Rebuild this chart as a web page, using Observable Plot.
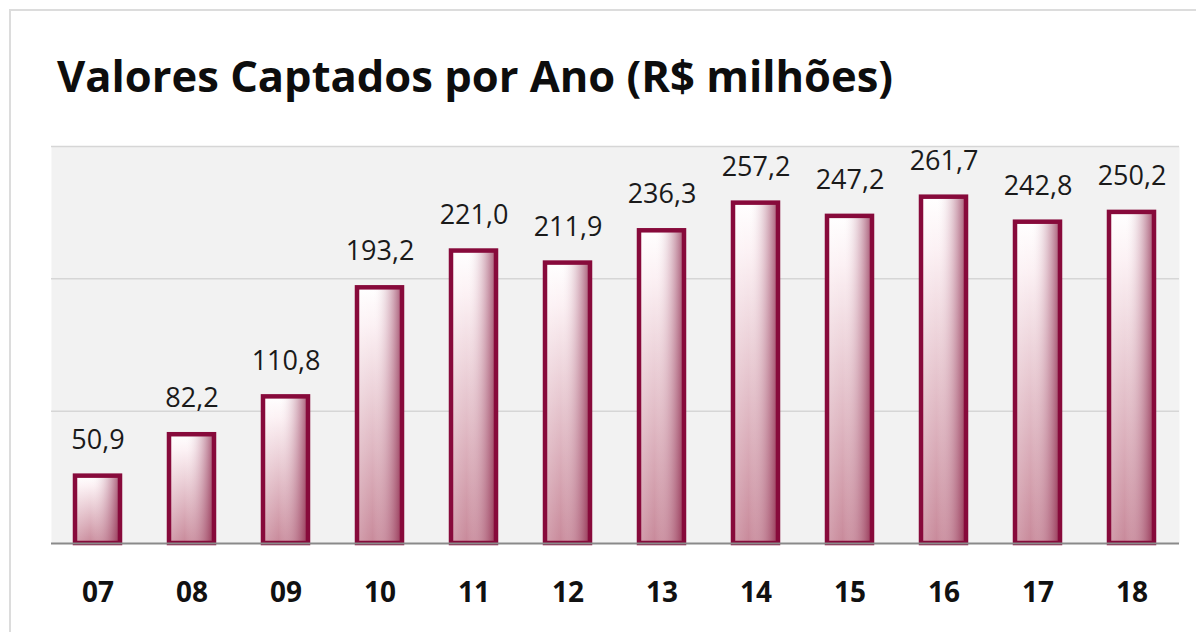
<!DOCTYPE html>
<html>
<head>
<meta charset="utf-8">
<script src="https://cdn.jsdelivr.net/npm/d3@7"></script>
<script src="https://cdn.jsdelivr.net/npm/@observablehq/plot@0.6"></script>
<style>
  html, body { margin: 0; padding: 0; background: #ffffff; }
  body { width: 1196px; height: 632px; position: relative; overflow: hidden; font-family: "Open Sans", sans-serif; }
  #frame { position: absolute; left: 9px; top: 9px; width: 1300px; height: 800px; border: 2px solid #dcdcdc; box-sizing: border-box; }
  #title { position: absolute; left: 57px; top: 54px; font-size: 43.5px; line-height: 1; font-weight: 700; color: #0d0d0d; white-space: nowrap; }
  #chart { position: absolute; left: 0; top: 120px; }
</style>
</head>
<body>
<div id="frame"></div>
<div id="title">Valores Captados por Ano (R$ milhões)</div>
<div id="chart"></div>
<script>
const years = ["07", "08", "09", "10", "11", "12", "13", "14", "15", "16", "17", "18"];
const values = [50.9, 82.2, 110.8, 193.2, 221.0, 211.9, 236.3, 257.2, 247.2, 261.7, 242.8, 250.2];
const gridTicks = [100, 200, 300];

const data = years.map((year, i) => ({year, value: values[i]}));
const fmt = v => v.toFixed(1).replace(".", ",");

const chart = Plot.plot({
  width: 1196,
  height: 512,
  marginTop: 26,
  marginBottom: 89,
  marginLeft: 51,
  marginRight: 17,
  style: {background: "transparent", fontFamily: "Open Sans, sans-serif", overflow: "visible"},
  x: {domain: years, paddingInner: 0.52, paddingOuter: 0.26, label: null},
  y: {domain: [0, 300], axis: null},
  marks: [
    Plot.frame({fill: "#f2f2f2", stroke: null}),
    Plot.ruleY(gridTicks, {stroke: "#d6d6d6", strokeWidth: 1.5}),
    Plot.barY(data, {x: "year", y: "value", fill: "url(#gV)"}),
    Plot.barY(data, {x: "year", y: "value", fill: "url(#gH)", stroke: "#870a3b", strokeWidth: 4.5}),
    Plot.ruleY([0], {stroke: "#8a8a8a", strokeWidth: 2}),
    Plot.text(data, {x: "year", y: "value", text: d => fmt(d.value), dy: -36, fontSize: 27, fill: "#1a1a1a", lineAnchor: "middle"}),
    Plot.axisX({tickSize: 0, tickPadding: 39, fontSize: 28, fontWeight: "bold", fill: "#111111", label: null})
  ]
});

const defs = d3.select(chart).insert("defs", ":first-child");
const gV = defs.append("linearGradient").attr("id", "gV").attr("x1", 0).attr("y1", 0).attr("x2", 0).attr("y2", 1);
gV.append("stop").attr("offset", 0).attr("stop-color", "#ffffff");
gV.append("stop").attr("offset", 0.15).attr("stop-color", "#fcf1f4");
gV.append("stop").attr("offset", 1).attr("stop-color", "#c8899a");
const gH = defs.append("linearGradient").attr("id", "gH").attr("x1", 0).attr("y1", 0).attr("x2", 1).attr("y2", 0);
gH.append("stop").attr("offset", 0).attr("stop-color", "#ffffff").attr("stop-opacity", 0.2);
gH.append("stop").attr("offset", 0.35).attr("stop-color", "#ffffff").attr("stop-opacity", 0);
gH.append("stop").attr("offset", 1).attr("stop-color", "#7d0a33").attr("stop-opacity", 0.7);

document.getElementById("chart").appendChild(chart);
</script>
</body>
</html>
